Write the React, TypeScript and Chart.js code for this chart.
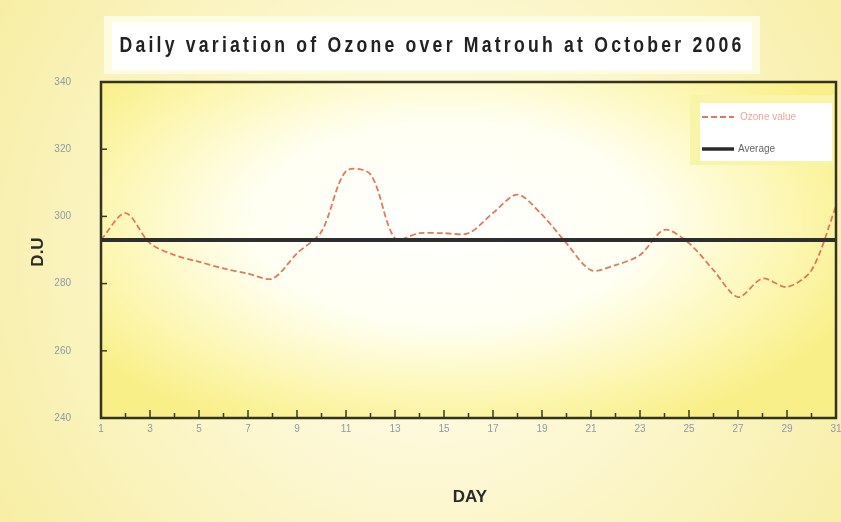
import React, { useEffect, useRef } from "react";
import { Chart, registerables } from "chart.js";

Chart.register(...registerables);

const days: string[] = [
  "1", "2", "3", "4", "5", "6", "7", "8", "9", "10",
  "11", "12", "13", "14", "15", "16", "17", "18", "19", "20",
  "21", "22", "23", "24", "25", "26", "27", "28", "29", "30", "31",
];

const ozoneValues: number[] = [
  293, 301, 292, 288.5, 286.5, 284.5, 283, 281.5, 289, 295.5,
  313.5, 312.5, 293.5, 295, 295, 295, 301, 306.5, 300.5, 292,
  284, 285.5, 288.5, 296, 292, 284, 276, 281.5, 279, 284, 303,
];

const averageValues: number[] = [
  293, 293, 293, 293, 293, 293, 293, 293, 293, 293,
  293, 293, 293, 293, 293, 293, 293, 293, 293, 293,
  293, 293, 293, 293, 293, 293, 293, 293, 293, 293, 293,
];

const yTicks: number[] = [240, 260, 280, 300, 320, 340];

const titleText = "Daily variation of Ozone over Matrouh at October 2006";
const seriesNames: string[] = ["Ozone value", "Average"];

const decorPlugin = {
  id: "decor",
  beforeDraw(chart: any) {
    const { ctx, width, height, chartArea } = chart;
    ctx.save();
    // page background
    const bg = ctx.createRadialGradient(430, 260, 40, 430, 260, 520);
    bg.addColorStop(0, "#fffef0");
    bg.addColorStop(1, "#f7eda2");
    ctx.fillStyle = bg;
    ctx.fillRect(0, 0, width, height);

    // plot area elliptical gradient
    const { left, top, right, bottom } = chartArea;
    const cx = (left + right) / 2 - 20;
    const cy = top + (bottom - top) * 0.42;
    const rx = (right - left) * 0.6;
    const ry = (bottom - top) * 0.68;
    ctx.save();
    ctx.beginPath();
    ctx.rect(left, top, right - left, bottom - top);
    ctx.clip();
    ctx.translate(cx, cy);
    ctx.scale(1, ry / rx);
    const g = ctx.createRadialGradient(0, 0, 0, 0, 0, rx);
    g.addColorStop(0, "#ffffff");
    g.addColorStop(0.45, "#fffff2");
    g.addColorStop(0.8, "#fcf6ae");
    g.addColorStop(1, "#f9ef88");
    ctx.fillStyle = g;
    ctx.fillRect(-rx * 2, -rx * 2, rx * 4, rx * 4);
    ctx.restore();

    // title box
    ctx.fillStyle = "#fdfce0";
    ctx.fillRect(104, 16, 656, 58);
    ctx.fillStyle = "#ffffff";
    ctx.fillRect(112, 22, 640, 48);
    ctx.fillStyle = "#222222";
    ctx.font = "bold 22px 'Liberation Sans', Arial, sans-serif";
    (ctx as any).letterSpacing = "4px";
    ctx.textAlign = "center";
    ctx.textBaseline = "middle";
    const w = ctx.measureText(titleText).width;
    const sx = 625 / w;
    ctx.save();
    ctx.translate(432, 46);
    ctx.scale(sx, 1);
    ctx.fillText(titleText, 0, 0);
    ctx.restore();
    (ctx as any).letterSpacing = "0px";

    // axis titles
    ctx.font = "bold 17px 'Liberation Sans', Arial, sans-serif";
    ctx.fillStyle = "#2a2a2a";
    ctx.fillText("DAY", 470, 497);
    ctx.save();
    ctx.translate(38, 252);
    ctx.rotate(-Math.PI / 2);
    ctx.fillText("D.U", 0, 0);
    ctx.restore();
    ctx.restore();
  },
  afterDraw(chart: any) {
    const { ctx, chartArea } = chart;
    const { left, top, right, bottom } = chartArea;
    const xs = chart.scales.x;
    const ys = chart.scales.y;
    ctx.save();
    // inward ticks
    ctx.strokeStyle = "#3a3a24";
    ctx.lineWidth = 1.5;
    for (const v of yTicks) {
      const y = ys.getPixelForValue(v);
      ctx.beginPath();
      ctx.moveTo(left, y);
      ctx.lineTo(left + 6, y);
      ctx.stroke();
    }
    for (let i = 0; i < days.length; i++) {
      const x = xs.getPixelForValue(i);
      const len = i % 2 === 0 ? 8 : 5;
      ctx.beginPath();
      ctx.moveTo(x, bottom);
      ctx.lineTo(x, bottom - len);
      ctx.stroke();
    }
    // plot border
    ctx.strokeStyle = "#34341e";
    ctx.lineWidth = 2.5;
    ctx.strokeRect(left, top, right - left, bottom - top);

    // legend
    ctx.fillStyle = "#f8f5a8";
    ctx.fillRect(690, 95, 144, 70);
    ctx.fillStyle = "#ffffff";
    ctx.fillRect(700, 103, 132, 58);
    ctx.font = "10px 'Liberation Sans', Arial, sans-serif";
    ctx.textAlign = "left";
    ctx.textBaseline = "middle";
    ctx.strokeStyle = "#e0785c";
    ctx.lineWidth = 2;
    ctx.setLineDash([6, 3]);
    ctx.beginPath();
    ctx.moveTo(702, 117);
    ctx.lineTo(734, 117);
    ctx.stroke();
    ctx.setLineDash([]);
    ctx.fillStyle = "#eaa898";
    ctx.fillText(seriesNames[0], 740, 117);
    ctx.strokeStyle = "#2b2b2b";
    ctx.lineWidth = 3.5;
    ctx.beginPath();
    ctx.moveTo(702, 149);
    ctx.lineTo(734, 149);
    ctx.stroke();
    ctx.fillStyle = "#666666";
    ctx.fillText(seriesNames[1], 738, 149);
    ctx.restore();
  },
};

export default function App() {
  const ref = useRef<HTMLCanvasElement | null>(null);
  useEffect(() => {
    document.body.style.margin = "0";
    const canvas = ref.current;
    if (!canvas) return;
    const chart = new Chart(canvas, {
      type: "line",
      data: {
        labels: days,
        datasets: [
          {
            label: seriesNames[0],
            data: ozoneValues,
            borderColor: "#e2795c",
            borderWidth: 1.8,
            borderDash: [6, 3],
            pointRadius: 0,
            tension: 0.3,
            fill: false,
            order: 2,
          },
          {
            label: seriesNames[1],
            data: averageValues,
            borderColor: "#2e2e2e",
            borderWidth: 4,
            pointRadius: 0,
            fill: false,
            order: 1,
          },
        ],
      },
      options: {
        responsive: false,
        animation: false,
        layout: { padding: { top: 82, right: 5, left: 0, bottom: 0 } },
        plugins: {
          legend: { display: false },
          title: { display: false },
          tooltip: { enabled: false },
        },
        scales: {
          x: {
            offset: false,
            grid: { display: false, drawTicks: false },
            border: { display: false },
            ticks: {
              autoSkip: false,
              maxRotation: 0,
              padding: 5,
              color: "#8e9aa8",
              font: { size: 10, family: "'Liberation Sans', Arial, sans-serif" },
              callback: (_v: any, i: number) => (i % 2 === 0 ? days[i] : ""),
            },
            afterFit: (scale: any) => {
              scale.height = 104;
              scale.paddingLeft = 0;
              scale.paddingRight = 0;
            },
          },
          y: {
            min: 240,
            max: 340,
            afterBuildTicks: (scale: any) => {
              scale.ticks = yTicks.map((v) => ({ value: v }));
            },
            grid: { display: false, drawTicks: false },
            border: { display: false },
            ticks: {
              padding: 30,
              color: "#8e9aa8",
              font: { size: 10, family: "'Liberation Sans', Arial, sans-serif" },
              callback: (v: any) => String(v),
            },
            afterFit: (scale: any) => {
              scale.width = 101;
              scale.paddingTop = 0;
              scale.paddingBottom = 0;
            },
          },
        },
      },
      plugins: [decorPlugin],
    });
    return () => chart.destroy();
  }, []);
  return <canvas ref={ref} width={841} height={522} style={{ display: "block" }} />;
}
